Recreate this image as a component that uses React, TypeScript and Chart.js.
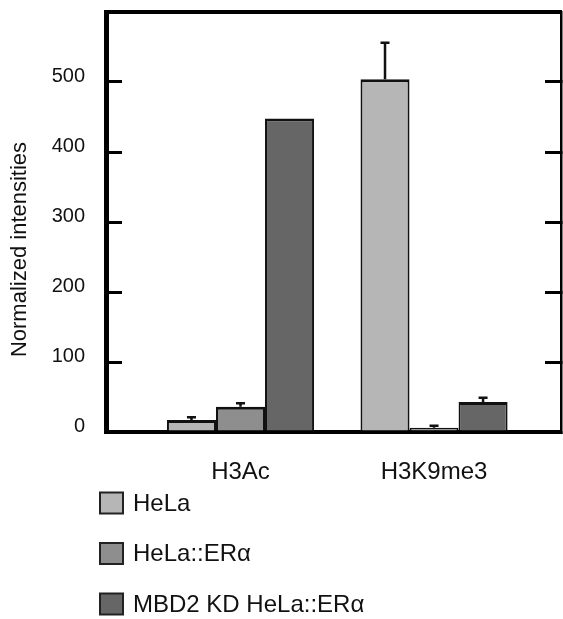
import React, { useEffect, useRef } from 'react';
import { Chart, registerables } from 'chart.js';

Chart.register(...registerables);

// ---- data ----
const categories = ['H3Ac', 'H3K9me3'];
const seriesLabels = ['HeLa', 'HeLa::ERα', 'MBD2 KD HeLa::ERα'];
const helaValues = [17, 504];
const helaErrors = [4, 52];
const eraValues = [36, 6];
const eraErrors = [5, 3];
const mbd2Values = [448, 43];
const mbd2Errors = [0, 6];
const yMin = 0;
const yMax = 600;
const yStep = 100;
const yLastLabel = 500;
const axisTitle = 'Normalized intensities';

const seriesColors = ['#b6b6b6', '#8e8e8e', '#666666'];
const FONT = "'Liberation Sans', Arial, Helvetica, sans-serif";

const xMin = 0.305;
const xMax = 2.656;

const errorBarsPlugin = {
  id: 'errorBars',
  afterDatasetsDraw(chart: any) {
    const ctx = chart.ctx;
    const yScale = chart.scales.y;
    chart.data.datasets.forEach((ds: any, i: number) => {
      const meta = chart.getDatasetMeta(i);
      const errs: number[] = ds.errors || [];
      meta.data.forEach((bar: any, j: number) => {
        const e = errs[j];
        if (!e) return;
        const v = ds.data[j].y;
        const top = yScale.getPixelForValue(v + e);
        ctx.save();
        ctx.strokeStyle = '#111';
        ctx.lineWidth = 2.5;
        ctx.beginPath();
        ctx.moveTo(bar.x, bar.y);
        ctx.lineTo(bar.x, top);
        ctx.moveTo(bar.x - 4.5, top);
        ctx.lineTo(bar.x + 4.5, top);
        ctx.stroke();
        ctx.restore();
      });
    });
  },
};

const stackedLegendPlugin = {
  id: 'stackedLegend',
  afterDraw(chart: any) {
    const ctx = chart.ctx;
    const left = 100;
    const firstCenter = 503;
    const step = 50.5;
    const boxW = 23;
    const boxH = 21;
    ctx.save();
    chart.data.datasets.forEach((ds: any, i: number) => {
      const cy = firstCenter + i * step;
      ctx.fillStyle = ds.backgroundColor;
      ctx.fillRect(left, cy - boxH / 2, boxW, boxH);
      ctx.strokeStyle = '#222';
      ctx.lineWidth = 2;
      ctx.strokeRect(left, cy - boxH / 2, boxW, boxH);
      ctx.fillStyle = '#111';
      ctx.font = `24px ${FONT}`;
      ctx.textBaseline = 'middle';
      ctx.textAlign = 'left';
      ctx.fillText(ds.label, left + 33, cy + 1);
    });
    ctx.restore();
  },
};

export default function App() {
  const canvasRef = useRef<HTMLCanvasElement | null>(null);

  useEffect(() => {
    const canvas = canvasRef.current;
    if (!canvas) return;
    const valueSets = [helaValues, eraValues, mbd2Values];
    const errorSets = [helaErrors, eraErrors, mbd2Errors];
    const chart = new Chart(canvas, {
      type: 'bar',
      data: {
        datasets: seriesLabels.map((label, i) => ({
          label,
          data: valueSets[i].map((v, j) => ({ x: j + 1, y: v })),
          errors: errorSets[i],
          backgroundColor: seriesColors[i],
          borderColor: '#111',
          borderWidth: { top: 3, left: 2, right: 2, bottom: 0 },
          borderSkipped: false,
          categoryPercentage: 0.76,
          barPercentage: 1.0,
          xAxisID: 'x',
          yAxisID: 'y',
        })) as any,
      },
      options: {
        responsive: false,
        animation: false,
        devicePixelRatio: 1,
        layout: { padding: { left: 0, right: 0, top: 0, bottom: 127 } },
        plugins: {
          legend: { display: false },
          tooltip: { enabled: false },
        },
        scales: {
          x: {
            type: 'linear',
            position: 'bottom',
            min: xMin,
            max: xMax,
            offset: false,
            grid: { display: false, drawTicks: false },
            border: { display: true, color: '#000', width: 4 },
            afterBuildTicks: (scale: any) => {
              scale.ticks = categories.map((_, i) => ({ value: i + 1 }));
            },
            afterFit: (scale: any) => {
              scale.height = 60;
              scale.paddingLeft = 0;
              scale.paddingRight = 0;
            },
            ticks: {
              autoSkip: false,
              maxRotation: 0,
              padding: 26,
              color: '#111',
              font: { family: FONT, size: 24 },
              callback: (v: any) => categories[Math.round(Number(v)) - 1] ?? '',
            },
          },
          xTop: {
            type: 'linear',
            position: 'top',
            min: xMin,
            max: xMax,
            grid: { display: false, drawTicks: false },
            border: { display: true, color: '#000', width: 4 },
            ticks: { display: false },
            afterFit: (scale: any) => {
              scale.height = 12;
              scale.paddingLeft = 0;
              scale.paddingRight = 0;
            },
          },
          y: {
            type: 'linear',
            position: 'left',
            min: yMin,
            max: yMax,
            grid: {
              display: true,
              drawOnChartArea: false,
              drawTicks: true,
              tickLength: -16,
              color: '#000',
              lineWidth: 3,
            },
            border: { display: true, color: '#000', width: 5 },
            afterFit: (scale: any) => {
              scale.width = 106;
              scale.paddingTop = 0;
              scale.paddingBottom = 0;
            },
            ticks: {
              stepSize: yStep,
              padding: 37,
              labelOffset: -6,
              color: '#111',
              font: { family: FONT, size: 20 },
              callback: (v: any) => (Number(v) > yLastLabel ? null : String(v)),
            },
            title: {
              display: true,
              text: axisTitle + '         ',
              color: '#111',
              font: { family: FONT, size: 22 },
              padding: { top: 7, bottom: 0 },
            },
          },
          yRight: {
            type: 'linear',
            position: 'right',
            min: yMin,
            max: yMax,
            grid: {
              display: true,
              drawOnChartArea: false,
              drawTicks: true,
              tickLength: -16,
              color: '#000',
              lineWidth: 3,
            },
            border: { display: true, color: '#000', width: 2.5 },
            ticks: {
              display: false,
              stepSize: yStep,
              callback: (v: any) => (Number(v) > yLastLabel ? null : String(v)),
            },
            afterFit: (scale: any) => {
              scale.width = 2;
              scale.paddingTop = 0;
              scale.paddingBottom = 0;
            },
          },
        },
      } as any,
      plugins: [errorBarsPlugin, stackedLegendPlugin],
    });
    return () => chart.destroy();
  }, []);

  return (
    <div style={{ position: 'fixed', left: 0, top: 0, width: 563, height: 619, background: '#fff' }}>
      <canvas ref={canvasRef} width={563} height={619} style={{ display: 'block' }} />
    </div>
  );
}
